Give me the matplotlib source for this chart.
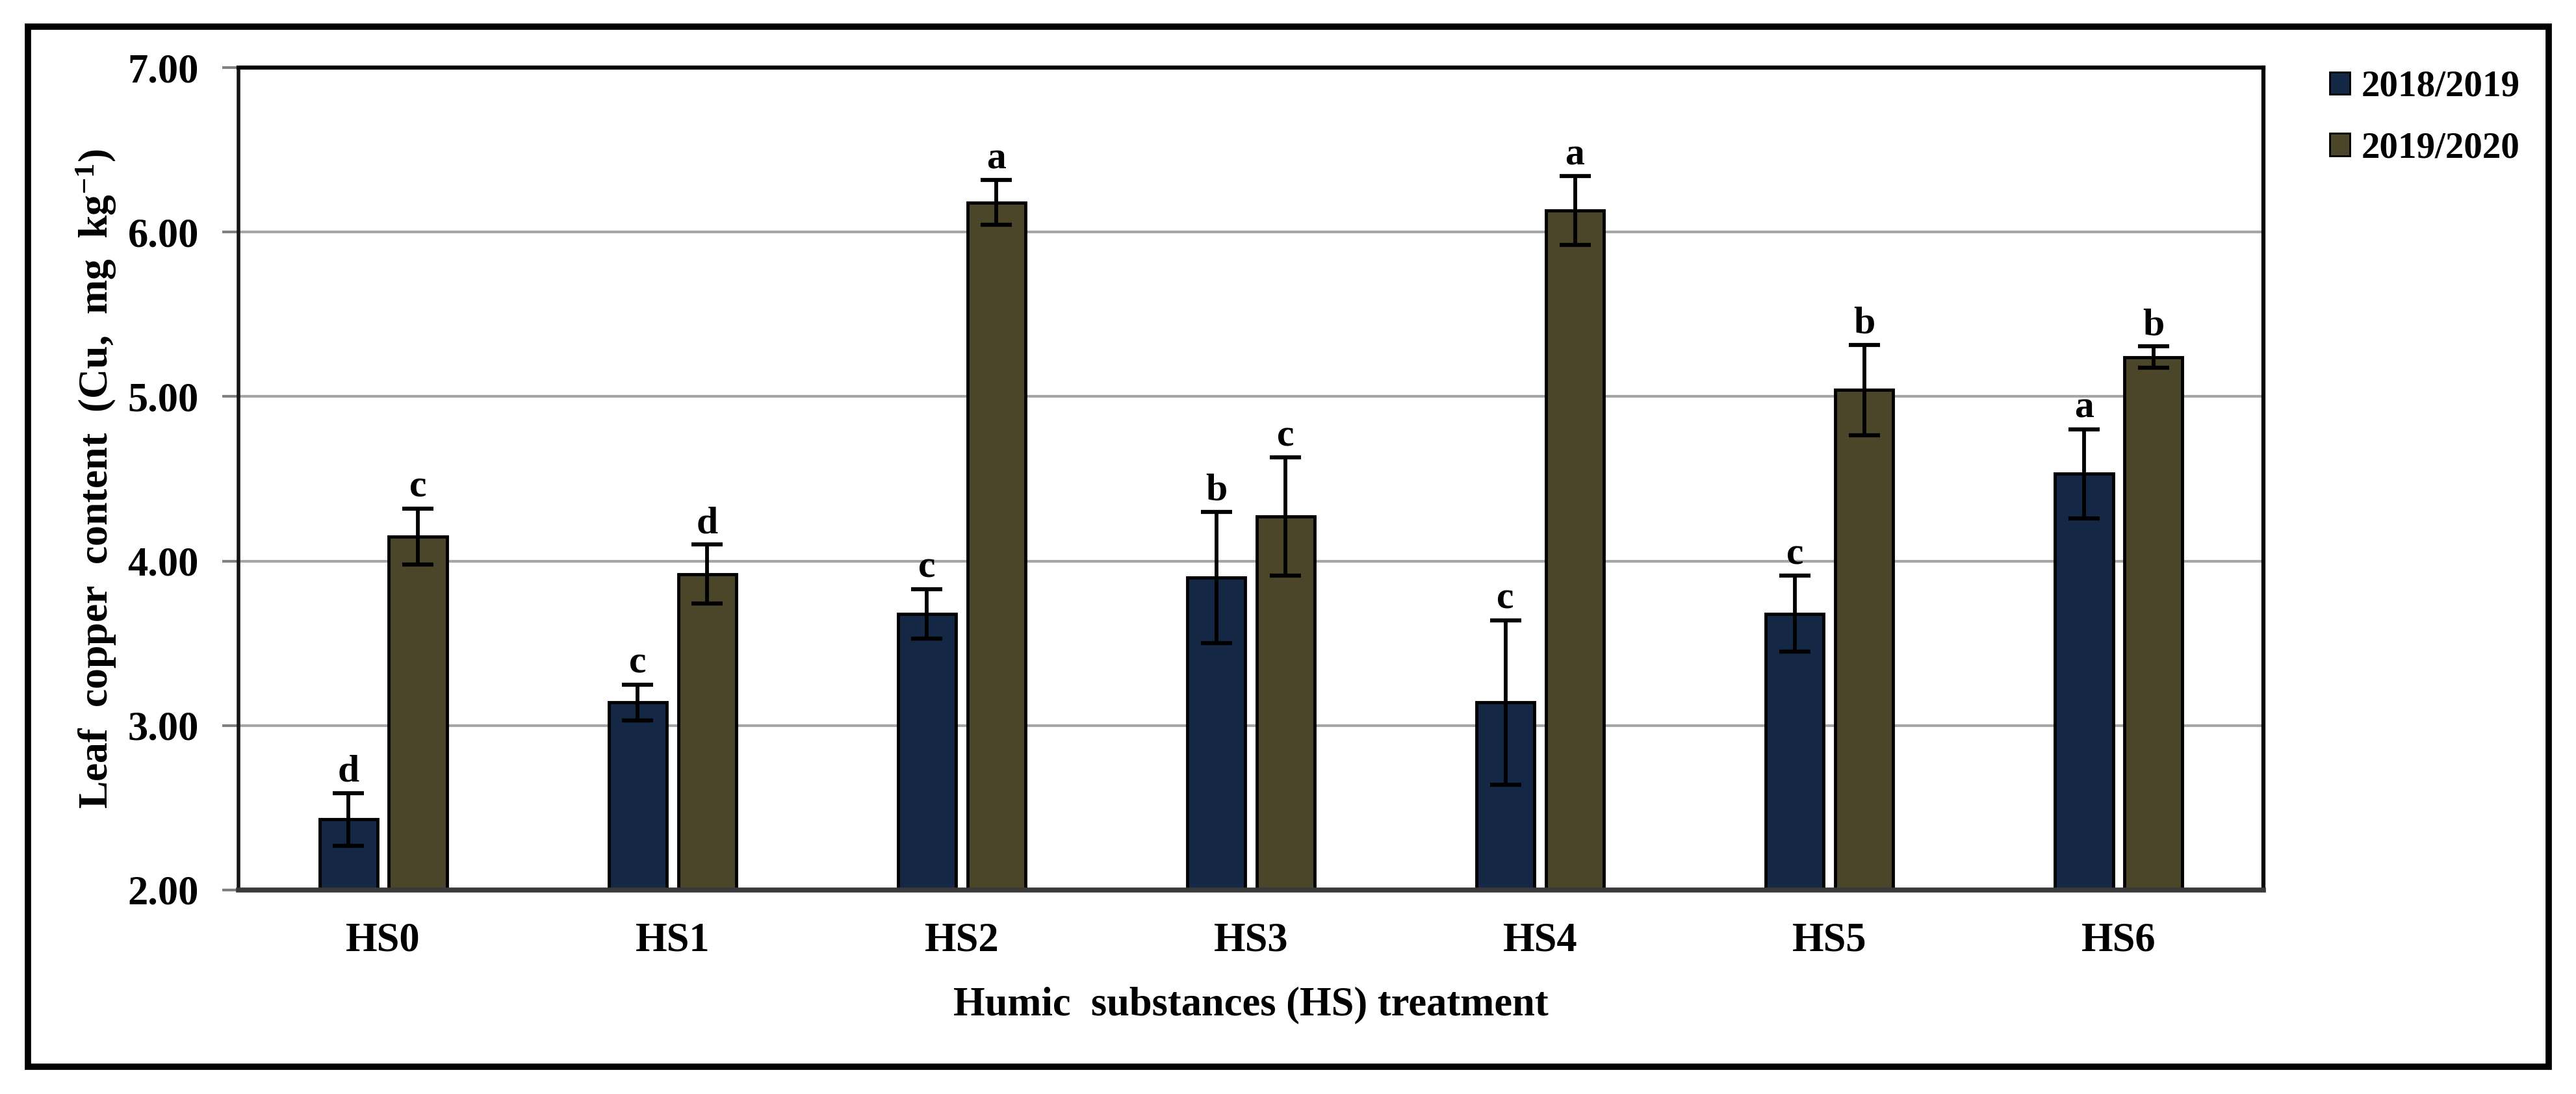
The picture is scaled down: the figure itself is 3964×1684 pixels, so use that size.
import matplotlib
matplotlib.use("Agg")
import matplotlib.pyplot as plt
from matplotlib.patches import Rectangle
import numpy as np

# ---- data ----
categories = ["HS0", "HS1", "HS2", "HS3", "HS4", "HS5", "HS6"]
series_names = ["2018/2019", "2019/2020"]
vals_2018 = [2.43, 3.14, 3.68, 3.90, 3.14, 3.68, 4.53]
err_2018 = [0.16, 0.11, 0.15, 0.40, 0.50, 0.23, 0.27]
vals_2019 = [4.15, 3.92, 6.18, 4.27, 6.13, 5.04, 5.24]
err_2019 = [0.17, 0.18, 0.135, 0.36, 0.21, 0.275, 0.065]
letters_2018 = ["d", "c", "c", "b", "c", "c", "a"]
letters_2019 = ["c", "d", "a", "c", "a", "b", "b"]
yticks = [2.0, 3.0, 4.0, 5.0, 6.0, 7.0]

plt.rcParams["font.family"] = ["Liberation Serif", "DejaVu Serif"]
plt.rcParams["font.weight"] = "bold"
plt.rcParams["mathtext.fontset"] = "custom"
plt.rcParams["mathtext.rm"] = "Liberation Serif:bold"
plt.rcParams["mathtext.bf"] = "Liberation Serif:bold"
plt.rcParams["mathtext.it"] = "Liberation Serif:bold"

W, H = 3964, 1684
DPI = 100
fig = plt.figure(figsize=(W / DPI, H / DPI), dpi=DPI)
fig.patch.set_facecolor("white")

L, R, T, B = 367, 3483, 104, 1370
ax = fig.add_axes([L / W, 1 - B / H, (R - L) / W, (B - T) / H])

c1 = "#142846"
c2 = "#4b4529"
x = np.arange(len(categories))
off = 0.12
bw = 0.2

ax.bar(x - off, vals_2018, bw, color=c1, edgecolor="black", linewidth=3.5,
       label=series_names[0], zorder=3)
ax.bar(x + off, vals_2019, bw, color=c2, edgecolor="black", linewidth=3.5,
       label=series_names[1], zorder=3)
ax.errorbar(x - off, vals_2018, yerr=err_2018, fmt="none", ecolor="black",
            elinewidth=4.2, capsize=17, capthick=4.5, zorder=4)
ax.errorbar(x + off, vals_2019, yerr=err_2019, fmt="none", ecolor="black",
            elinewidth=4.2, capsize=17, capthick=4.5, zorder=4)

for xi, v, e, t in zip(x - off, vals_2018, err_2018, letters_2018):
    ax.annotate(t, (xi, v + e), xytext=(0, 13), textcoords="offset points",
                ha="center", va="baseline", fontsize=43, fontweight="bold")
for xi, v, e, t in zip(x + off, vals_2019, err_2019, letters_2019):
    ax.annotate(t, (xi, v + e), xytext=(0, 13), textcoords="offset points",
                ha="center", va="baseline", fontsize=43, fontweight="bold")

ax.set_xlim(-0.5, len(categories) - 0.5)
ax.set_ylim(2, 7)
ax.set_yticks(yticks)
ax.set_yticklabels([f"{t:.2f}" for t in yticks])
ax.set_xticks(x)
ax.set_xticklabels(categories)
ax.tick_params(axis="y", direction="out", length=18, width=3, color="#808080",
               pad=26, labelsize=45)
ax.tick_params(axis="x", length=0, pad=36, labelsize=45)
ax.yaxis.grid(True, color="#a6a6a6", linewidth=3, zorder=0)
ax.set_axisbelow(True)

for s in ["top", "right"]:
    ax.spines[s].set_color("black")
    ax.spines[s].set_linewidth(4.5)
ax.spines["left"].set_color("#151515")
ax.spines["left"].set_linewidth(4)
ax.spines["bottom"].set_color("#3a3a3a")
ax.spines["bottom"].set_linewidth(5.5)
ax.spines["bottom"].set_zorder(5)

ax.set_ylabel("Leaf  copper  content  (Cu,  mg  kg$^{-1}$)", fontsize=46,
              fontweight="bold", va="center")
ax.yaxis.set_label_coords(-219 / (R - L), 0.5)
ax.set_xlabel("Humic  substances (HS) treatment", fontsize=45,
              fontweight="bold", va="center")
ax.xaxis.set_label_coords(0.5, -(1547 - B) / (B - T))

leg = fig.legend(loc="upper left", bbox_to_anchor=(3585 / W, 1 - 108 / H),
                 frameon=False, fontsize=41, handlelength=0.55,
                 handleheight=0.55, handletextpad=0.3, labelspacing=0.75,
                 borderpad=0, borderaxespad=0)
for h in leg.legend_handles:
    h.set_linewidth(2)

fig.add_artist(Rectangle((43 / W, 1 - 1642 / H), (3922 - 43) / W,
                         (1642 - 41) / H, transform=fig.transFigure,
                         fill=False, edgecolor="black", linewidth=7))

fig.savefig("out.png", dpi=DPI)
